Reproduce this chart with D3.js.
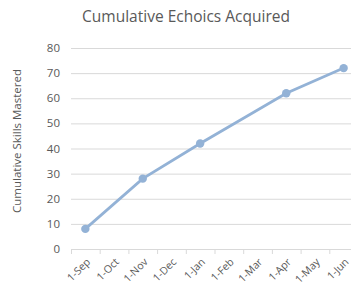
<!DOCTYPE html>
<html>
<head>
  <script src="https://d3js.org/d3.v7.min.js"></script>
  <style>
    body { margin: 0; background: #fff; font-family: "Open Sans", sans-serif; }
    .grid line { stroke: #d9d9d9; stroke-width: 1; }
    text { fill: #595959; }
  </style>
</head>
<body>
  <svg width="351" height="289"></svg>
  <script>
    const width = 351, height = 289;

    const months = ["1-Sep", "1-Oct", "1-Nov", "1-Dec", "1-Jan", "1-Feb", "1-Mar", "1-Apr", "1-May", "1-Jun"];
    const pointDates = ["1-Sep", "1-Nov", "1-Jan", "1-Apr", "1-Jun"];
    const pointValues = [8, 28, 42, 62, 72];
    const yTicks = [0, 10, 20, 30, 40, 50, 60, 70, 80];

    const plotLeft = 71, plotRight = 358, plotTop = 48, plotBottom = 249;

    const svg = d3.select("svg");

    const x = d3.scaleBand().domain(months).range([plotLeft, plotRight]);
    const y = d3.scaleLinear().domain([0, 80]).range([plotBottom, plotTop]);

    // gridlines
    svg.append("g").attr("class", "grid")
      .selectAll("line")
      .data(yTicks)
      .enter().append("line")
      .attr("x1", plotLeft).attr("x2", width)
      .attr("y1", d => y(d) + 0.5).attr("y2", d => y(d) + 0.5);

    // y labels
    svg.append("g")
      .selectAll("text")
      .data(yTicks)
      .enter().append("text")
      .attr("x", 60)
      .attr("y", d => y(d))
      .attr("dy", "0.35em")
      .attr("text-anchor", "end")
      .style("font-size", "11.5px")
      .text(d => d);

    // x tick marks
    svg.append("g").attr("class", "grid")
      .selectAll("line")
      .data(months)
      .enter().append("line")
      .attr("x1", d => x(d) + 0.5).attr("x2", d => x(d) + 0.5)
      .attr("y1", plotBottom).attr("y2", plotBottom + 5);

    // x labels
    svg.append("g")
      .selectAll("text")
      .data(months)
      .enter().append("text")
      .attr("transform", d => `translate(${x(d) + x.bandwidth() / 2 + 3},${plotBottom + 11}) rotate(-45)`)
      .attr("text-anchor", "end")
      .attr("dy", "0.35em")
      .style("font-size", "10.5px")
      .text(d => d);

    const pts = pointDates.map((d, i) => ({ date: d, value: pointValues[i] }));
    const line = d3.line()
      .x(d => x(d.date) + x.bandwidth() / 2)
      .y(d => y(d.value));

    svg.append("path")
      .datum(pts)
      .attr("d", line)
      .attr("fill", "none")
      .attr("stroke", "#93b2d6")
      .attr("stroke-width", 2.75);

    svg.append("g")
      .selectAll("circle")
      .data(pts)
      .enter().append("circle")
      .attr("cx", d => x(d.date) + x.bandwidth() / 2)
      .attr("cy", d => y(d.value))
      .attr("r", 4.2)
      .attr("fill", "#93b2d6");

    svg.append("text")
      .attr("x", 186)
      .attr("y", 22)
      .attr("text-anchor", "middle")
      .style("font-size", "15.5px")
      .text("Cumulative Echoics Acquired");

    svg.append("text")
      .attr("transform", "translate(21,141) rotate(-90)")
      .attr("text-anchor", "middle")
      .style("font-size", "11.5px")
      .text("Cumulative Skills Mastered");
  </script>
</body>
</html>
